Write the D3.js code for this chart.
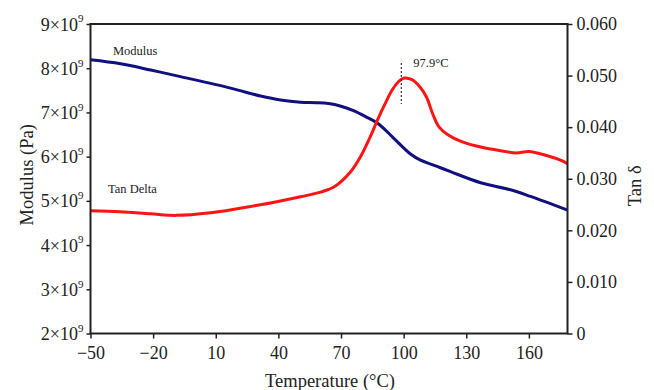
<!DOCTYPE html>
<html><head><meta charset="utf-8">
<script src="https://cdn.jsdelivr.net/npm/d3@7"></script>
<style>body{margin:0;background:#fff}svg{display:block}text{font-family:"Liberation Serif","Times New Roman",serif;fill:#222}</style>
</head><body><svg id="c" width="654" height="390"></svg>
<script>
// Data
const modT   = [-50,-35.6,-21.2,-6.9,17.1,31.5,41,50.6,58,64,70,76,82,88,95.2,103.3,108.1,114.3,122.5,136.9,151.2,160.8,178.5];
const modVal = [8.19,8.10,7.96,7.81,7.55,7.37,7.28,7.23,7.22,7.20,7.14,7.04,6.90,6.74,6.42,6.06,5.92,5.81,5.66,5.41,5.25,5.10,4.79]; // x1e9 Pa
const tanT   = [-50,-36,-21.2,-9,7.5,21.8,36.2,50.6,60.1,67,74.5,79.4,84.1,87.5,91.3,94.5,97.5,100,104,108,111,114,117,121,127.8,137.4,147,154,160,168.5,175.7,178.5];
const tanVal = [0.0238,0.0236,0.0232,0.0229,0.0234,0.0243,0.0253,0.0265,0.0274,0.0285,0.0313,0.0343,0.0382,0.0414,0.0447,0.0472,0.0488,0.0495,0.0492,0.0477,0.0458,0.0425,0.0400,0.0386,0.0372,0.0361,0.0354,0.0350,0.0353,0.0345,0.0335,0.0329];
const xTicks   = [-50,-20,10,40,70,100,130,160];
const modTicks = [2,3,4,5,6,7,8,9];
const tanTicks = [0,0.01,0.02,0.03,0.04,0.05,0.06];
const tanTickLabels = ["0","0.010","0.020","0.030","0.040","0.050","0.060"];
const peakT = 98.9, peakLabel = "97.9°C";

const svg = d3.select("#c");
const L=90.5, R=567.5, T=24, B=333.5;
const x = d3.scaleLinear().domain([-50,178.5]).range([L,R]);
const yM = d3.scaleLinear().domain([2,9]).range([B,T]);
const yT = d3.scaleLinear().domain([0,0.06]).range([B,T]);

// curves
svg.append("path").datum(modT.map((t,i)=>[t,modVal[i]]))
  .attr("d", d3.line().x(d=>x(d[0])).y(d=>yM(d[1])).curve(d3.curveCatmullRom.alpha(0.5)))
  .attr("fill","none").attr("stroke","#10107e").attr("stroke-width",3);
svg.append("path").datum(tanT.map((t,i)=>[t,tanVal[i]]))
  .attr("d", d3.line().x(d=>x(d[0])).y(d=>yT(d[1])).curve(d3.curveCatmullRom.alpha(0.5)))
  .attr("fill","none").attr("stroke","#ff1414").attr("stroke-width",3);

// peak marker
svg.append("line").attr("x1",x(peakT)).attr("x2",x(peakT)).attr("y1",63).attr("y2",104)
  .attr("stroke","#333").attr("stroke-width",1.2).attr("stroke-dasharray","2,2");
svg.append("text").attr("x",x(peakT)+12).attr("y",67).attr("font-size",12.5).text(peakLabel);
svg.append("text").attr("x",113).attr("y",55).attr("font-size",12.5).text("Modulus");
svg.append("text").attr("x",108).attr("y",193).attr("font-size",12.5).text("Tan Delta");

// frame
svg.append("rect").attr("x",L).attr("y",T).attr("width",R-L).attr("height",B-T)
  .attr("fill","none").attr("stroke","#222").attr("stroke-width",2);

// axes
const fs=18;
const gx = svg.append("g").attr("transform",`translate(0,${B})`)
  .call(d3.axisBottom(x).tickValues(xTicks).tickSize(5).tickSizeOuter(0).tickFormat(d=>d<0?"\u2212"+(-d):d));
const gl = svg.append("g").attr("transform",`translate(${L},0)`)
  .call(d3.axisLeft(yM).tickValues(modTicks).tickSize(4).tickSizeOuter(0).tickFormat(""));
const gr = svg.append("g").attr("transform",`translate(${R},0)`)
  .call(d3.axisRight(yT).tickValues(tanTicks).tickSize(5).tickSizeOuter(0).tickFormat((d,i)=>tanTickLabels[i]));
[gx,gl,gr].forEach(g=>{
  g.select(".domain").remove();
  g.selectAll(".tick line").attr("stroke","#222").attr("stroke-width",1.5);
  g.selectAll("text").attr("font-family",'"Liberation Serif",serif').attr("font-size",fs).attr("fill","#222");
});
gx.selectAll("text").attr("dy","0.95em");
gr.selectAll("text").attr("x",9).attr("dy","0.32em");

// left tick labels with superscript
gl.selectAll(".tick").each(function(d){
  const t = d3.select(this).append("text").attr("x",-7).attr("dy","0.34em").attr("text-anchor","end")
    .attr("font-size",fs).attr("fill","#222");
  t.append("tspan").text(d+"\u00d710");
  t.append("tspan").attr("font-size",11).attr("dy","-0.75em").text("9");
});

// axis titles
svg.append("text").attr("transform",`translate(33,${(T+B)/2-4}) rotate(-90)`).attr("text-anchor","middle")
  .attr("font-size",18.5).text("Modulus (Pa)");
svg.append("text").attr("transform",`translate(641,${(T+B)/2+7}) rotate(-90)`).attr("text-anchor","middle")
  .attr("font-size",18.5).text("Tan δ");
svg.append("text").attr("x",330).attr("y",387).attr("text-anchor","middle")
  .attr("font-size",18.5).text("Temperature (°C)");
</script></body></html>
